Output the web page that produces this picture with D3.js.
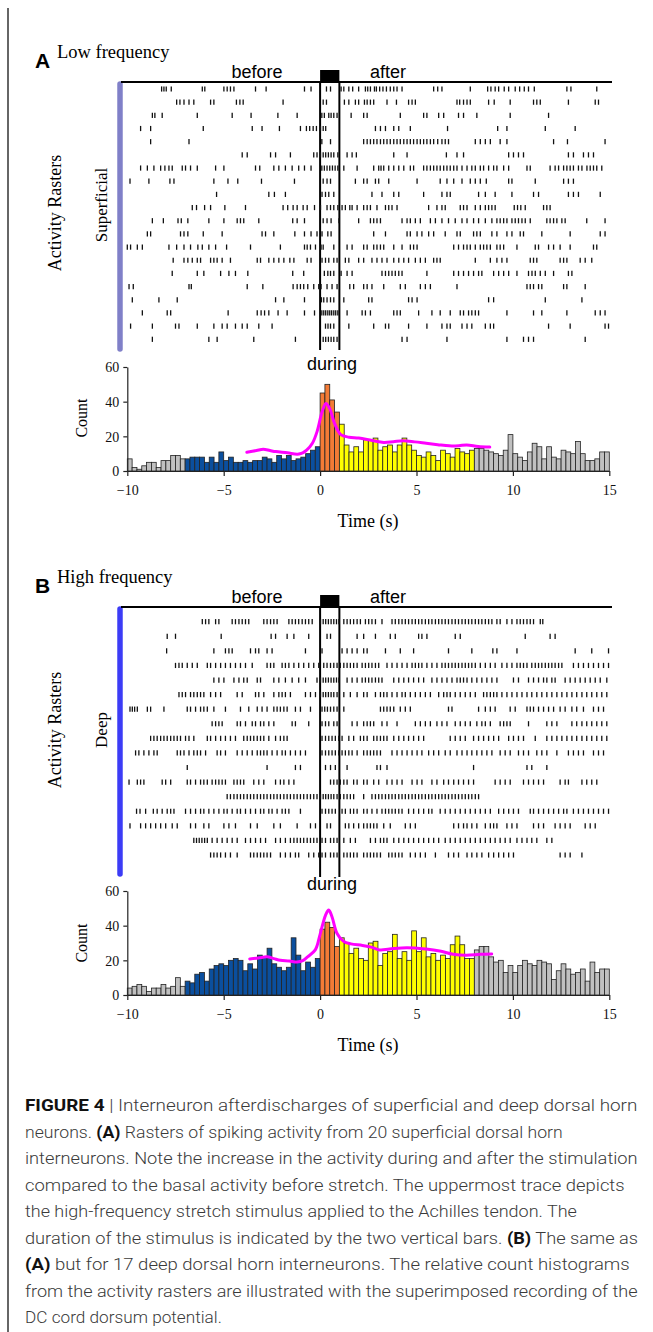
<!DOCTYPE html>
<html><head><meta charset="utf-8">
<script src="https://cdnjs.cloudflare.com/ajax/libs/d3/7.8.5/d3.min.js"></script>
<style>body{margin:0;background:#fff}svg{display:block}</style>
</head><body>
<svg id="c" width="653" height="1332"></svg>
<script>
// ---------------- DATA ----------------
const timeTicks = [-10, -5, 0, 5, 10, 15];
const countTicks = [0, 20, 40, 60];
const binStart = -10, binWidth = 0.25;
const phaseEdges = [-7, 0, 1, 8];
const phaseColors = ["#C0C0C0", "#0B4F9E", "#F47B36", "#FFFF00", "#C0C0C0"];
const stimulus = [0, 1];

const countsA = [7,2,1,3,5,5,2,6,6,9,9,7,
  7,8,8,8,5,8,5,11, 6,8,5,5,6,5,6,6,8,7,5,9,7,9,6,7,8,10,12,14,
  45,50,41,34,
  27,15,11,14,11,18,18,19,12,14,15,11,15,19,15,12,9,8,11,9,6,12,10,8,13,11,10,12,
  13,13,12,11,10,9,12,21,10,8,6,11,16,14,7,14,8,7,12,11,10,17,10,6,6,7,11,11];
const countsB = [4,5,6,5,2,4,4,6,4,5,10,5,
  8,7,12,13,8,15,17,18,17,20,21,20,14,18,15,23,22,27,18,16,14,16,33,23,14,19,16,21,
  38,42,39,28,
  33,30,24,27,21,20,30,31,17,24,25,35,21,25,20,37,25,33,22,24,20,23,21,29,34,29,21,21,
  26,28,28,22,19,20,13,17,13,17,20,18,17,20,19,18,9,14,18,15,12,13,15,8,19,13,15,15];

const dcA = [[-3.8,10.8],[-3.3,11.8],[-2.95,12.5],[-2.6,11.8],[-2.3,11.2],[-1.7,10.5],[-1.17,9.7],[-0.9,10.5],[-0.7,12],[-0.4,16],[-0.15,23],[0.1,34],[0.3,39],[0.5,36],[0.75,27.5],[1.07,21],[1.5,19.5],[2.0,19],[2.7,17.6],[3.3,16.5],[3.8,16.9],[4.3,17.4],[4.9,16.8],[5.5,16],[6.1,15.2],[6.7,14.5],[7.2,14.6],[7.6,15],[8.2,14.2],[8.8,13.8]];
const dcB = [[-3.65,20.8],[-3.2,21.3],[-2.75,22],[-2.4,21],[-2.06,20],[-1.6,19.6],[-1.2,19],[-0.9,19.8],[-0.65,22],[-0.25,26],[0,35],[0.28,46],[0.45,49],[0.62,45],[0.88,35.5],[1.23,30.8],[1.6,29.5],[2.2,28.6],[2.7,27.5],[3.1,26],[3.6,26.5],[4.5,27.3],[5.5,26.5],[6.2,25.4],[6.9,23.5],[7.6,23],[8.3,23.5],[8.9,23.7]];

const rasterA = [
 [-8.22,-8.10,-7.98,-7.72,-6.11,-5.98,-4.99,-4.82,-4.65,-4.47,-3.35,-2.80,-0.81,-0.47,0.33,0.54,1.09,1.23,1.49,1.69,2.00,2.35,2.47,2.61,2.82,2.92,3.09,3.26,3.44,3.64,3.82,3.99,4.25,5.89,6.10,6.32,7.79,8.69,8.86,9.08,9.26,9.55,9.78,10.12,10.35,10.59,10.81,11.11,12.80,13.01,14.35],
 [-7.44,-7.27,-7.06,-6.80,-6.55,-5.68,-5.51,-4.34,-4.16,-3.99,-1.92,0.16,0.33,1.26,1.49,1.83,2.00,2.30,2.44,2.61,2.78,3.47,3.96,4.59,4.77,4.94,7.10,7.24,7.44,7.62,7.79,8.74,9.03,9.86,11.07,11.24,11.42,12.88,14.27,14.44],
 [-8.70,-8.57,-8.19,-6.37,-4.56,-3.58,-2.19,-1.19,0.09,0.22,0.45,0.57,0.71,0.88,1.61,2.26,2.44,4.16,5.37,5.54,6.15,6.41,7.18,7.44,8.13,9.86,11.85],
 [-9.31,-8.79,-6.06,-3.52,-3.01,-2.11,-1.02,-0.71,-0.54,-0.36,-0.19,0.02,0.16,0.29,2.87,3.13,3.39,3.82,4.08,4.68,6.61,9.21,9.69,11.68,13.23],
 [-8.79,-6.80,0.09,0.54,2.26,2.44,2.61,2.78,2.95,3.13,3.30,3.47,3.64,3.82,3.99,4.16,4.34,4.51,4.68,4.85,5.03,5.20,5.37,5.54,5.72,5.89,6.10,6.32,6.49,6.66,8.05,8.31,8.57,8.83,9.34,9.69,12.11,12.83,14.78],
 [-4.04,-3.78,-2.57,-2.31,-1.54,-0.33,-0.16,0.02,0.16,0.29,0.43,0.57,0.71,0.92,1.40,1.66,1.88,3.82,4.51,6.55,7.10,7.44,9.78,10.03,10.29,10.55,12.88,13.14,13.66,13.92,14.18],
 [-9.31,-8.96,-8.62,-8.27,-8.05,-7.84,-7.67,-7.15,-6.98,-6.72,-6.37,-5.42,-4.99,-3.35,-3.13,-2.40,-2.14,-1.80,-1.45,-1.11,-0.81,-0.47,0.09,0.22,0.36,0.50,0.64,0.78,0.92,1.23,1.92,2.78,3.04,3.16,3.30,3.56,3.82,4.08,4.34,4.68,4.85,5.37,5.54,5.72,5.89,6.06,6.23,6.41,6.58,6.75,6.93,7.10,7.36,7.62,7.87,8.05,8.31,8.48,8.74,9.00,9.17,9.52,9.78,10.73,10.90,11.93,12.19,12.37,12.63,12.80,12.97,13.14,13.40,13.58,13.84,14.01,14.18,14.35,14.61],
 [-9.86,-8.88,-7.79,-7.58,-5.51,-4.78,-4.27,-3.04,-1.33,0.16,0.36,0.54,1.83,2.26,2.44,2.87,3.04,3.56,5.03,6.23,6.58,6.93,7.36,7.79,8.05,8.31,8.62,9.78,9.95,11.16,12.63,12.88,13.14],
 [-5.37,-2.66,-2.37,-1.80,0.10,0.28,0.45,0.71,2.69,3.21,3.82,4.08,5.37,6.32,6.58,6.75,8.22,8.57,9.08,9.95,11.07,11.33,12.88,13.14,13.40,14.53],
 [-6.63,-6.41,-5.99,-5.68,-4.94,-3.87,-1.92,-1.68,-1.40,-1.19,-0.88,-0.67,-0.29,0.02,0.36,0.54,0.71,0.92,1.14,1.31,1.54,1.66,1.92,2.26,2.44,2.61,2.95,3.39,3.56,3.73,3.99,5.63,6.06,6.32,6.49,7.27,7.44,7.62,8.05,8.31,8.57,8.74,8.91,9.08,10.07,10.24,10.41,10.64,11.59,11.76,11.93],
 [-8.70,-8.13,-7.37,-7.20,-6.86,-5.77,-4.99,-4.30,-4.13,-3.96,-3.18,-1.42,-1.19,-0.81,0.16,0.36,0.57,0.98,2.00,2.61,2.78,2.95,3.13,4.25,4.51,4.68,4.94,5.20,5.72,5.98,6.32,6.66,7.01,7.36,7.62,7.96,8.22,8.57,8.91,9.17,9.34,9.52,9.69,9.95,10.12,10.29,10.47,10.64,10.90,11.76,11.93,12.11,12.28,12.54,12.71,13.83,14.78],
 [-8.96,-8.79,-7.24,-7.06,-6.86,-6.06,-5.08,-3.01,-2.83,-2.40,-1.31,-0.81,-0.47,-0.16,0.10,0.40,0.57,2.78,3.39,4.51,4.68,5.03,5.28,5.63,5.89,6.49,7.10,7.27,7.96,8.13,8.31,8.91,9.17,9.69,9.95,10.38,10.55,11.50,12.97,14.53,14.78],
 [-10.0,-9.83,-9.48,-9.22,-7.84,-7.44,-7.06,-6.72,-6.34,-6.11,-5.77,-5.42,-4.85,-3.61,-2.06,-0.81,-0.67,-0.50,-0.24,0.05,0.16,0.71,1.40,1.66,2.26,2.44,2.78,2.95,3.13,3.30,3.82,4.25,4.68,4.85,5.03,6.93,7.18,7.44,7.62,7.79,8.05,8.31,8.48,8.65,8.83,9.17,9.34,9.52,10.21,11.16,11.33,11.85,12.11,12.45,12.97,14.18,14.35],
 [-7.62,-7.06,-6.86,-6.63,-6.37,-6.20,-5.68,-5.51,-5.34,-5.08,-4.65,-3.26,-3.09,-2.66,-2.40,-2.14,-1.88,-1.57,-1.36,-0.67,-0.47,0.10,0.28,0.45,0.71,0.88,1.31,1.49,2.00,2.26,2.69,2.95,3.21,3.47,3.82,4.08,4.34,4.59,4.94,5.20,5.46,5.89,6.06,6.23,8.05,8.83,9.17,9.43,9.69,10.90,11.07,11.24,12.45,12.63,12.80,13.49,13.75,14.09],
 [-7.67,-6.37,-6.03,-5.16,-4.73,-4.39,-3.75,-1.42,-0.85,0.22,0.40,0.54,0.71,1.09,1.40,1.66,3.21,3.39,3.56,3.73,3.90,4.08,4.25,5.54,6.93,7.18,7.44,7.70,7.96,8.22,8.39,9.00,9.26,9.52,9.78,10.21,10.81,10.99,11.16,11.42,11.68,12.11,12.88,13.06],
 [-9.91,-9.69,-6.80,-6.68,-3.78,-2.97,-1.40,-1.19,-1.02,-0.85,-0.64,-0.33,-0.07,0.05,0.36,0.62,0.88,1.54,1.74,2.26,2.44,2.69,3.30,4.16,4.42,5.20,5.46,5.72,7.10,10.73,10.90,11.07,11.33,11.50,12.63,12.80,13.75],
 [-9.74,-8.36,-7.41,-2.31,-1.88,-0.81,0.07,0.19,0.36,0.54,0.71,1.23,2.52,2.69,4.59,4.77,5.03,8.74,9.00,11.68,13.58],
 [-9.22,-7.93,-7.75,-4.77,-3.26,-3.06,-2.88,-2.66,-2.18,-1.71,-0.81,-0.29,0.09,0.19,0.29,0.40,0.50,0.60,0.71,0.81,0.92,1.40,2.18,2.35,2.61,3.82,3.99,4.16,5.11,5.80,6.23,6.75,7.27,7.44,7.70,7.87,8.05,8.22,9.69,11.07,11.50,12.80,14.27,14.53,14.78],
 [-9.83,-8.70,-7.50,-7.32,-6.37,-5.51,-5.08,-4.82,-4.39,-4.04,-3.78,-3.18,-2.49,0.28,0.41,0.54,0.71,1.49,2.78,3.39,3.56,4.59,5.54,6.32,6.58,6.75,7.36,7.62,7.87,8.57,8.83,9.00,11.85,12.97,14.78,14.96],
 [-8.70,-5.77,-5.34,-3.44,-1.28,0.16,0.29,0.43,0.57,0.71,0.88,4.25,4.51,6.58,9.69,10.55,10.81,11.07,13.75]
];

const rasterB = [
 [-6.11,-5.94,-5.77,-5.42,-5.25,-4.56,-4.39,-4.21,-4.04,-3.87,-3.70,-2.92,-2.75,-2.57,-2.40,-2.23,-1.62,-1.45,-1.28,-1.11,-0.93,-0.76,-0.59,-0.41,0.02,0.16,0.29,0.43,0.57,0.71,0.85,0.98,1.23,1.40,1.57,1.74,1.92,2.09,2.35,2.52,2.69,2.87,3.21,3.73,3.90,4.08,4.25,4.42,4.59,4.77,4.94,5.11,5.28,5.46,5.63,5.80,5.98,6.15,6.32,6.49,6.66,6.84,7.01,7.18,7.36,7.53,7.70,7.87,8.05,8.22,8.39,8.57,8.74,8.91,9.17,9.34,9.69,9.95,10.21,10.38,10.55,10.73,10.90,11.07,11.42,11.55],
 [-7.93,-7.50,-5.13,-2.54,-2.31,-1.71,-1.36,-0.59,0.36,0.54,1.92,2.26,2.87,3.64,3.90,5.11,5.28,5.54,7.01,7.27,10.64,11.93,12.19],
 [-7.96,-5.51,-4.91,-4.73,-4.56,-3.61,-3.35,-3.18,-2.75,-2.49,-0.76,0.10,1.14,1.40,1.66,1.92,2.26,2.44,3.39,4.16,4.85,6.66,7.87,8.96,9.17,10.21,13.23,14.09,14.96],
 [-7.50,-7.32,-7.15,-6.89,-6.63,-6.37,-5.85,-5.68,-5.42,-5.16,-4.91,-4.65,-4.39,-4.13,-3.87,-3.52,-2.75,-2.57,-2.40,-1.97,-1.80,-1.62,-1.36,-1.11,-0.85,-0.59,-0.33,-0.07,0.19,0.36,0.54,0.71,0.88,1.05,1.23,1.40,1.57,1.74,1.92,2.18,2.35,2.52,2.69,2.87,3.04,3.47,3.73,3.99,4.25,4.51,4.77,4.94,5.11,5.28,5.54,5.80,6.06,6.32,6.49,6.66,6.84,7.01,7.18,7.36,7.53,7.70,7.87,8.05,8.31,8.57,8.83,9.08,9.43,9.69,9.95,10.21,10.38,10.55,10.73,10.98,11.16,11.33,11.50,11.68,11.85,12.02,12.19,12.37,12.54,13.14,13.40,13.66,13.92,14.18,14.44,14.70,14.96],
 [-5.51,-5.25,-4.99,-4.47,-4.21,-3.96,-3.78,-3.26,-3.09,-2.40,-2.14,-1.80,-1.45,-1.11,-0.76,-0.16,0.02,0.16,0.29,0.43,0.57,0.71,0.85,0.98,1.40,1.66,1.92,2.18,2.35,2.52,2.69,2.87,3.04,3.21,3.82,4.08,4.34,4.59,4.85,5.11,5.37,5.80,6.06,6.32,6.58,6.84,7.10,7.27,7.44,7.62,7.87,8.13,8.39,8.65,8.91,9.17,10.03,10.29,10.81,11.07,11.33,11.59,11.76,12.02,12.19,12.71,12.97,13.23,13.49,13.75,14.01,14.27,14.53,14.87],
 [-7.32,-7.15,-6.98,-6.72,-6.55,-6.37,-6.20,-6.03,-5.68,-5.42,-5.16,-4.30,-4.04,-3.35,-3.18,-2.92,-2.40,-2.14,-1.97,-1.80,-1.54,-0.76,-0.50,-0.24,0.02,0.16,0.29,0.43,0.57,0.71,0.88,1.23,1.57,1.92,2.26,2.44,2.87,3.13,3.30,3.47,3.73,3.99,4.25,4.42,4.68,4.94,5.20,5.46,5.72,6.15,6.41,6.58,6.75,7.01,7.27,7.53,7.79,8.05,8.48,8.65,8.83,9.00,9.17,9.43,9.69,9.95,10.21,10.47,10.73,10.98,11.24,11.50,11.76,12.02,12.28,12.54,12.80,13.06,13.31,13.58,13.83,14.09,14.35,14.61,14.87],
 [-9.86,-9.74,-9.62,-9.48,-8.96,-8.79,-8.10,-6.89,-6.72,-6.46,-6.20,-6.03,-5.85,-5.51,-4.91,-4.13,-3.70,-3.26,-3.01,-2.75,-2.40,-2.23,-2.06,-1.88,-1.71,-1.28,-1.02,-0.50,0.10,0.24,0.38,0.54,0.71,0.88,1.23,3.13,3.30,3.47,3.64,3.82,4.16,4.42,4.68,6.66,6.84,8.22,8.57,8.83,9.08,9.86,10.12,10.73,10.90,11.07,11.33,11.59,11.85,12.11,12.45,12.71,13.06,13.31,13.66,14.18,14.44,14.70],
 [-5.60,-5.42,-5.25,-5.08,-4.30,-4.13,-3.87,-3.52,-3.35,-3.09,-2.92,-2.66,-2.40,-1.45,-1.28,-0.59,0.10,0.28,0.45,0.71,0.88,1.66,1.92,2.26,2.44,2.61,2.78,3.21,3.47,3.99,4.94,5.20,5.46,5.72,6.06,6.32,6.58,7.01,7.27,7.53,7.79,8.13,8.39,8.57,8.83,9.34,9.52,9.69,9.86,10.81,11.76,12.02,12.28,13.06,13.31,13.58,13.83,14.09,14.35,14.61,14.87],
 [-8.79,-8.62,-8.45,-8.27,-8.10,-7.93,-7.75,-7.58,-7.41,-7.24,-6.98,-6.80,-6.55,-5.85,-5.68,-5.42,-5.16,-4.91,-4.65,-4.39,-3.96,-3.78,-3.61,-3.44,-3.26,-3.09,-2.92,-2.66,-2.31,-2.06,-1.88,-1.71,0.10,0.28,0.45,0.62,0.79,0.97,1.14,1.49,1.74,2.09,2.26,2.44,2.78,2.95,3.13,3.30,3.47,3.82,4.08,4.34,4.59,4.85,5.11,5.37,6.75,7.01,7.27,7.53,7.96,8.22,8.48,8.74,9.00,9.26,9.78,10.03,10.29,10.55,11.16,11.76,12.02,12.28,12.54,12.80,13.06,13.31,13.58,13.83,14.09,14.35,14.61,14.87],
 [-9.57,-9.40,-9.14,-8.88,-8.62,-8.45,-7.41,-7.24,-7.06,-6.80,-6.55,-6.37,-6.20,-5.94,-5.34,-5.16,-4.91,-4.30,-4.04,-3.78,-3.52,-3.26,-3.09,-2.92,-2.75,-2.49,-2.23,-1.97,-1.80,-1.54,-1.28,-1.02,-0.76,0.10,0.28,0.45,0.62,0.79,0.97,1.14,1.31,1.49,1.66,1.92,2.26,2.44,2.61,2.78,2.95,3.13,3.73,3.99,4.25,4.51,4.77,5.03,5.28,5.63,5.89,6.15,6.49,6.75,7.10,7.36,7.62,7.87,8.13,8.39,8.65,8.91,9.34,9.60,9.86,10.29,10.55,10.81,11.24,11.50,11.76,12.28,12.88,13.14,13.40,13.66,14.18,14.44,14.70],
 [-6.89,-2.75,-1.28,-1.02,0.28,0.54,0.79,1.40,2.95,3.13,3.47,7.96,10.73,10.98,11.76],
 [-9.91,-9.48,-9.31,-9.14,-8.19,-8.01,-7.75,-6.89,-6.72,-6.46,-6.20,-6.03,-5.85,-5.60,-5.42,-5.25,-5.08,-4.91,-4.47,-4.30,-4.13,-3.96,-3.44,-3.18,-2.92,-2.31,-2.06,-1.88,-1.62,-1.36,0.54,0.71,0.88,1.05,1.23,1.40,1.74,1.92,2.26,2.44,2.78,3.04,3.47,3.73,3.99,4.25,4.77,5.03,5.28,5.80,6.06,6.41,6.66,6.93,7.18,7.44,7.70,7.96,9.08,9.34,9.60,9.86,10.55,10.81,11.07,11.33,11.59,12.45,12.71,12.88,13.58,13.83,14.09,14.35],
 [-4.82,-4.65,-4.47,-4.30,-4.13,-3.96,-3.78,-3.61,-3.44,-3.26,-3.09,-2.92,-2.75,-2.57,-2.40,-2.23,-2.06,-1.88,-1.71,-1.54,-1.36,-1.19,-1.02,-0.85,-0.67,-0.50,-0.33,-0.16,0.02,0.16,0.29,0.43,0.57,0.71,0.88,1.05,1.23,1.40,1.57,1.74,2.26,2.69,2.87,3.04,3.21,3.39,3.56,3.73,3.90,4.08,4.25,4.42,4.59,4.77,4.94,5.11,5.28,5.46,5.63,5.80,5.98,6.15,6.32,6.49,6.66,6.84,7.01,7.18,7.36,7.53,7.70,7.87,8.05,8.22],
 [-9.52,-9.34,-9.05,-8.65,-8.45,-8.19,-7.93,-7.75,-7.58,-6.98,-6.72,-6.46,-6.20,-6.03,-5.77,-5.51,-5.25,-4.99,-4.82,-4.56,-4.30,-4.13,-3.87,-3.61,-3.35,-3.09,-2.92,-2.66,-2.49,-2.23,-1.97,-1.80,-1.62,-1.02,0.10,0.28,0.45,0.62,0.79,1.14,1.31,1.57,1.74,1.92,2.26,2.44,2.69,2.95,3.21,3.39,3.56,3.73,3.90,4.08,4.25,4.59,4.85,5.11,5.37,5.63,5.80,6.23,6.49,6.75,7.01,7.27,7.53,7.79,8.05,8.31,8.57,8.83,9.26,9.52,9.78,10.03,10.29,10.90,11.07,11.33,11.59,11.85,12.11,12.37,12.63,12.80,13.14,13.40,13.66,13.92,14.18,14.44,14.70,14.96],
 [-9.86,-9.31,-9.05,-8.79,-8.53,-8.27,-8.01,-7.67,-7.41,-6.72,-6.46,-6.03,-5.77,-4.99,-4.73,-4.39,-3.61,-3.26,-2.40,-2.06,-1.19,-0.50,-0.24,0.36,0.54,1.31,1.49,1.74,2.00,2.26,2.44,2.61,2.78,2.95,3.30,3.64,4.42,4.68,4.94,6.93,7.18,7.44,7.62,7.87,8.13,8.57,8.83,9.00,9.17,9.69,9.95,10.21,11.07,11.33,11.59,12.19,12.45,12.71,12.97,13.75,14.01,14.27],
 [-6.55,-6.41,-6.27,-6.13,-5.99,-5.85,-5.60,-5.34,-5.08,-4.82,-4.56,-4.30,-3.87,-3.61,-3.35,-3.09,-2.83,-2.31,-2.06,-1.80,-1.54,-1.36,-1.19,-1.02,-0.85,-0.67,-0.50,-0.33,-0.16,0.10,0.28,0.54,0.71,0.88,1.23,1.57,1.83,2.61,2.87,3.13,3.30,3.47,3.82,4.08,4.34,4.59,4.85,5.11,5.37,5.63,5.89,6.15,6.49,6.75,7.01,7.27,7.53,7.79,8.05,8.31,8.57,8.83,9.08,9.34,9.60,9.86,10.21,10.47,10.73,10.98,11.24,11.76,12.02],
 [-5.68,-5.51,-5.34,-5.16,-4.91,-4.65,-4.30,-3.61,-3.44,-3.26,-3.09,-2.92,-2.75,-2.57,-2.06,-1.80,-1.54,-1.28,-1.11,-0.59,-0.33,-0.07,0.10,0.28,0.54,0.71,0.88,1.23,1.40,1.57,1.74,1.92,2.26,2.44,2.61,2.78,2.95,3.13,3.56,3.73,3.90,4.08,4.25,4.68,4.94,5.20,5.46,5.98,6.66,6.93,7.18,7.62,7.87,8.13,8.39,8.74,9.00,9.26,9.52,9.78,10.03,12.45,12.71,12.97,13.58]
];

const captionLines = [
 [["b","FIGURE 4"],["s"," | "],["n","Interneuron afterdischarges of superficial and deep dorsal horn"]],
 [["n","neurons. "],["b","(A)"],["n"," Rasters of spiking activity from 20 superficial dorsal horn"]],
 [["n","interneurons. Note the increase in the activity during and after the stimulation"]],
 [["n","compared to the basal activity before stretch. The uppermost trace depicts"]],
 [["n","the high-frequency stretch stimulus applied to the Achilles tendon. The"]],
 [["n","duration of the stimulus is indicated by the two vertical bars. "],["b","(B)"],["n"," The same as"]],
 [["b","(A)"],["n"," but for 17 deep dorsal horn interneurons. The relative count histograms"]],
 [["n","from the activity rasters are illustrated with the superimposed recording of the"]],
 [["n","DC cord dorsum potential."]]
];
const captionLineEnds = [638, 563, 638, 625, 577, 638, 630, 638, 222];

// ---------------- DRAW ----------------
const svg = d3.select("#c");
const serif = "'Liberation Serif','Times New Roman',serif";
const sans = "'Liberation Sans',Arial,sans-serif";
const x = d3.scaleLinear().domain([-10, 15]).range([127.3, 609.3]);
const phaseColor = d3.scaleThreshold().domain(phaseEdges).range(phaseColors);

// frame rule
svg.append("line").attr("x1",8).attr("x2",8).attr("y1",8).attr("y2",1332)
  .attr("stroke","#333").attr("stroke-width",1.5);

const panels = [
 {letter:"A", title:"Low frequency", layer:"Superficial", barColor:"#8080C8", raster:rasterA, counts:countsA, dc:dcA,
  lineY:82, rowTop:89, rowBottom:339.3, stimBottom:350, barTop:84, barBottom:349, rasterMid:213, layerMid:205,
  histTop:367, histBottom:471, letterY:68, titleY:58, beforeY:78, duringY:370, tickLabY:495, timeY:527, countMid:418},
 {letter:"B", title:"High frequency", layer:"Deep", barColor:"#3C3CF6", raster:rasterB, counts:countsB, dc:dcB,
  lineY:607, rowTop:621.7, rowBottom:855, stimBottom:877, barTop:609, barBottom:874, rasterMid:730, layerMid:730,
  histTop:891, histBottom:995, letterY:593, titleY:583, beforeY:603, duringY:890, tickLabY:1019, timeY:1051, countMid:943}
];

panels.forEach(p => {
  const g = svg.append("g");
  g.append("text").attr("x",35).attr("y",p.letterY).attr("font-family",sans).attr("font-weight","bold")
    .attr("font-size",21).text(p.letter);
  g.append("text").attr("x",57).attr("y",p.titleY).attr("font-family",serif).attr("font-size",18.5).text(p.title);
  g.append("text").attr("x",257).attr("y",p.beforeY).attr("text-anchor","middle").attr("font-family",sans)
    .attr("font-size",18).text("before");
  g.append("text").attr("x",388).attr("y",p.beforeY).attr("text-anchor","middle").attr("font-family",sans)
    .attr("font-size",18).text("after");
  g.append("text").attr("x",332).attr("y",p.duringY).attr("text-anchor","middle").attr("font-family",sans)
    .attr("font-size",18).text("during");

  g.append("text").attr("transform",`translate(61,${p.rasterMid}) rotate(-90)`).attr("text-anchor","middle")
    .attr("font-family",serif).attr("font-size",18).text("Activity Rasters");
  g.append("text").attr("transform",`translate(107,${p.layerMid}) rotate(-90)`).attr("text-anchor","middle")
    .attr("font-family",serif).attr("font-size",17).text(p.layer);
  g.append("line").attr("x1",120).attr("x2",120).attr("y1",p.barTop).attr("y2",p.barBottom)
    .attr("stroke",p.barColor).attr("stroke-width",5.5).attr("stroke-linecap","round");

  g.append("line").attr("x1",121).attr("x2",612).attr("y1",p.lineY).attr("y2",p.lineY)
    .attr("stroke","#000").attr("stroke-width",2);
  g.append("rect").attr("x",x(stimulus[0])).attr("y",p.lineY-12).attr("width",x(stimulus[1])-x(stimulus[0]))
    .attr("height",12).attr("fill","#000");
  g.selectAll(".stim").data(stimulus).join("line")
    .attr("x1",d=>x(d)).attr("x2",d=>x(d)).attr("y1",p.lineY).attr("y2",p.stimBottom)
    .attr("stroke","#000").attr("stroke-width",2);

  const yRow = d3.scaleLinear().domain([0, p.raster.length-1]).range([p.rowTop, p.rowBottom]);
  p.raster.forEach((row, i) => {
    g.append("g").selectAll("line").data(row).join("line")
      .attr("x1",d=>x(d)).attr("x2",d=>x(d))
      .attr("y1",yRow(i)-2.6).attr("y2",yRow(i)+2.6)
      .attr("stroke","#111").attr("stroke-width",1.3);
  });

  const y = d3.scaleLinear().domain([0,60]).range([p.histBottom, p.histTop]);
  const bw = x(binWidth) - x(0);
  g.append("g").selectAll("rect").data(p.counts).join("rect")
    .attr("x",(d,i)=>x(binStart+i*binWidth))
    .attr("y",d=>y(d)).attr("width",bw).attr("height",d=>y(0)-y(d))
    .attr("fill",(d,i)=>phaseColor(binStart+i*binWidth+0.001))
    .attr("stroke","#222").attr("stroke-width",0.8);

  const line = d3.line().x(d=>x(d[0])).y(d=>y(d[1])).curve(d3.curveCatmullRom.alpha(0.5));
  g.append("path").datum(p.dc).attr("d",line).attr("fill","none")
    .attr("stroke","#FF00FF").attr("stroke-width",3).attr("stroke-linecap","round");

  const xa = g.append("g").attr("transform",`translate(0,${p.histBottom})`)
    .call(d3.axisBottom(x).tickValues(timeTicks).tickSize(5).tickSizeOuter(0).tickFormat(d3.format("d")));
  const ya = g.append("g").attr("transform",`translate(${x(-10)},0)`)
    .call(d3.axisLeft(y).tickValues(countTicks).tickSize(4).tickSizeOuter(0));
  [xa, ya].forEach(a => {
    a.selectAll("text").attr("font-family",serif).attr("font-size",14).attr("fill","#111");
    a.selectAll("path,line").attr("stroke","#222").attr("stroke-width",1.2);
  });
  xa.selectAll("text").attr("dy",null).attr("y",p.tickLabY - p.histBottom);
  ya.selectAll("text").attr("x",-8).attr("dy","0.35em");

  g.append("text").attr("transform",`translate(87,${p.countMid}) rotate(-90)`).attr("text-anchor","middle")
    .attr("font-family",serif).attr("font-size",16).text("Count");
  g.append("text").attr("x",368).attr("y",p.timeY).attr("text-anchor","middle")
    .attr("font-family",serif).attr("font-size",18).text("Time (s)");
});

// caption
const capFont = "Roboto,'Liberation Sans',Arial,sans-serif";
const cap = svg.append("g").attr("font-family",capFont).attr("font-size",17).attr("fill","#3a3a3a");
captionLines.forEach((segs, i) => {
  const t = cap.append("text").attr("x",0).attr("y",0);
  segs.forEach(([k, s]) => {
    t.append("tspan").attr("font-weight", k==="b" ? "bold" : 300)
      .attr("fill", k==="b" ? "#111" : "#3a3a3a").text(s);
  });
  const w = t.node().getComputedTextLength();
  const sx = (captionLineEnds[i] - 25) / w;
  t.attr("transform", `translate(25,${1111 + i*26.5}) scale(${sx},1)`);
});
</script>
</body></html>
